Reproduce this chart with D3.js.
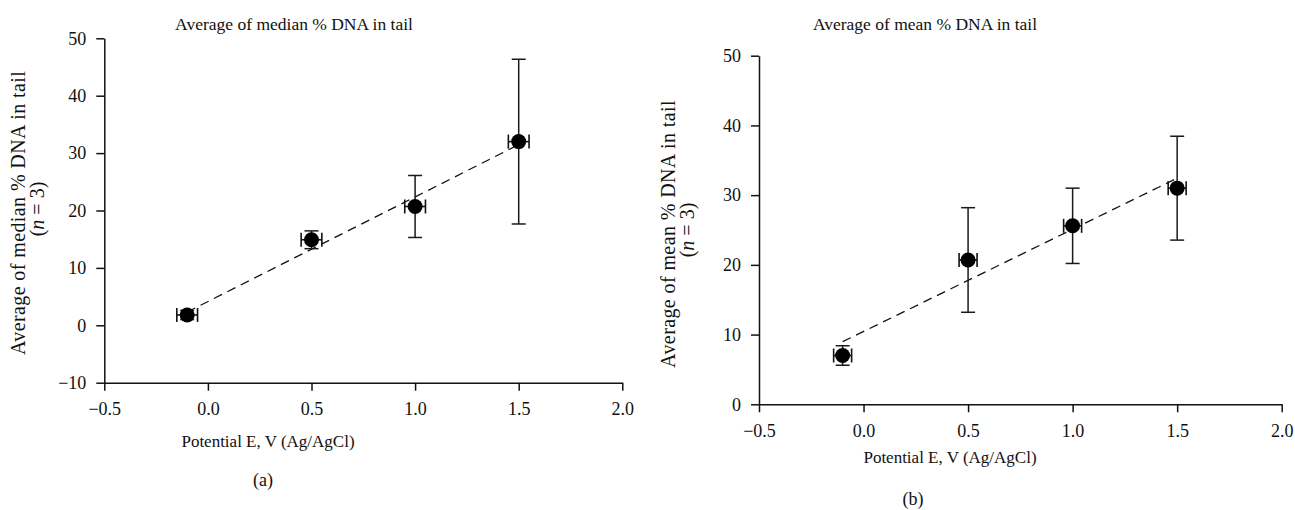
<!DOCTYPE html>
<html>
<head>
<meta charset="utf-8">
<script src="https://cdn.jsdelivr.net/npm/d3@7/dist/d3.min.js"></script>
<style>
  html, body { margin: 0; padding: 0; background: #fff; }
  svg { display: block; }
  text { font-family: "Liberation Serif", "Times New Roman", serif; fill: #111; }
</style>
</head>
<body>
<svg id="chart" width="1295" height="510"></svg>
<script>
// Applied potential (V vs Ag/AgCl) and its uncertainty
const potential = [-0.1, 0.5, 1.0, 1.5];
const potentialErrA = [0.05, 0.05, 0.05, 0.05];
const potentialErrB = [0.043, 0.043, 0.043, 0.043];

// Panel (a): average of median % DNA in tail, with standard deviation
const medianTail = [1.8, 14.9, 20.7, 32.0];
const medianTailErr = [0.8, 1.55, 5.4, 14.35];

// Panel (b): average of mean % DNA in tail, with standard deviation
const meanTail = [7.0, 20.7, 25.6, 31.0];
const meanTailErr = [1.4, 7.5, 5.4, 7.45];

// Axis ticks
const xTicks = [-0.5, 0.0, 0.5, 1.0, 1.5, 2.0];
const yTicksA = [-10, 0, 10, 20, 30, 40, 50];
const yTicksB = [0, 10, 20, 30, 40, 50];

const svg = d3.select("#chart");
const SERIF = "'Liberation Serif', 'Times New Roman', serif";

// Least-squares linear trendline through the plotted points
function linearFit(xs, ys) {
  const mx = d3.mean(xs), my = d3.mean(ys);
  const sxy = d3.sum(xs, (x, i) => (x - mx) * (ys[i] - my));
  const sxx = d3.sum(xs, x => (x - mx) * (x - mx));
  const slope = sxy / sxx;
  return { slope, intercept: my - slope * mx };
}

function drawPanel(cfg) {
  const g = svg.append("g");
  const x = d3.scaleLinear().domain([-0.5, 2.0]).range(cfg.xRange);
  const y = d3.scaleLinear().domain(cfg.yDomain).range(cfg.yRange);

  // Axes
  const xAxis = d3.axisBottom(x).tickValues(xTicks).tickFormat(d3.format(".1f"))
    .tickSize(8).tickSizeOuter(0).tickPadding(12);
  const yAxis = d3.axisLeft(y).tickValues(cfg.yTicks).tickFormat(d3.format("d"))
    .tickSize(8).tickSizeOuter(0).tickPadding(10);

  const gx = g.append("g").attr("transform", `translate(0,${cfg.yRange[0]})`).call(xAxis);
  const gy = g.append("g").attr("transform", `translate(${cfg.xRange[0]},0)`).call(yAxis);
  [gx, gy].forEach(a => {
    a.attr("font-family", SERIF);
    a.selectAll("path.domain").attr("stroke", "#111").attr("stroke-width", 1.5);
    a.selectAll(".tick line").attr("stroke", "#111").attr("stroke-width", 1.5);
    a.selectAll(".tick text").attr("font-size", 18).attr("fill", "#111");
  });

  // Dashed linear trendline
  const fit = linearFit(potential, cfg.values);
  const x0 = d3.min(potential), x1 = d3.max(potential);
  g.append("line")
    .attr("x1", x(x0)).attr("y1", y(fit.intercept + fit.slope * x0))
    .attr("x2", x(x1)).attr("y2", y(fit.intercept + fit.slope * x1))
    .attr("stroke", "#111").attr("stroke-width", 1.3)
    .attr("stroke-dasharray", "9,6");

  const pts = potential.map((p, i) => ({ p, v: cfg.values[i], ey: cfg.errors[i], ex: cfg.xErr[i] }));
  const cap = 7;

  // Vertical error bars
  const ye = g.append("g").attr("stroke", "#1a1a1a").attr("stroke-width", 1.5);
  pts.forEach(d => {
    const cx = x(d.p), yt = y(d.v + d.ey), yb = y(d.v - d.ey);
    ye.append("line").attr("x1", cx).attr("x2", cx).attr("y1", yt).attr("y2", yb);
    ye.append("line").attr("x1", cx - cap).attr("x2", cx + cap).attr("y1", yt).attr("y2", yt);
    ye.append("line").attr("x1", cx - cap).attr("x2", cx + cap).attr("y1", yb).attr("y2", yb);
  });

  // Horizontal error bars
  const xe = g.append("g").attr("stroke", "#111").attr("stroke-width", 1.6);
  pts.forEach(d => {
    const cy = y(d.v), xl = x(d.p - d.ex), xr = x(d.p + d.ex);
    xe.append("line").attr("x1", xl).attr("x2", xr).attr("y1", cy).attr("y2", cy);
    xe.append("line").attr("x1", xl).attr("x2", xl).attr("y1", cy - cap).attr("y2", cy + cap);
    xe.append("line").attr("x1", xr).attr("x2", xr).attr("y1", cy - cap).attr("y2", cy + cap);
  });

  // Markers
  g.append("g").selectAll("circle").data(pts).join("circle")
    .attr("cx", d => x(d.p)).attr("cy", d => y(d.v)).attr("r", 7.5)
    .attr("fill", "#000");

  // Titles and labels
  g.append("text").attr("x", cfg.titleX).attr("y", 30).attr("text-anchor", "middle")
    .attr("font-size", 17.5).text(cfg.title);

  g.append("text").attr("x", cfg.xLabelX).attr("y", cfg.xLabelY).attr("text-anchor", "middle")
    .attr("font-size", 17).text("Potential E, V (Ag/AgCl)");

  g.append("text").attr("x", cfg.tagX).attr("y", cfg.tagY).attr("text-anchor", "middle")
    .attr("font-size", 18).text(cfg.tag);

  const cy = cfg.yLabelCenter;
  g.append("text").attr("transform", `translate(${cfg.yLabelX},${cy}) rotate(-90)`)
    .attr("text-anchor", "middle").attr("font-size", 20).attr("letter-spacing", 0.4)
    .text(cfg.yLabel);
  const l2 = g.append("text").attr("transform", `translate(${cfg.yLabelX + 19},${cy - 4}) rotate(-90)`)
    .attr("text-anchor", "middle").attr("font-size", 20);
  l2.append("tspan").text("(");
  l2.append("tspan").attr("font-style", "italic").text("n");
  l2.append("tspan").text(" = 3)");
}

drawPanel({
  xRange: [104.3, 622.3], yRange: [382.7, 38.3], yDomain: [-10, 50], yTicks: yTicksA,
  values: medianTail, errors: medianTailErr, xErr: potentialErrA,
  title: "Average of median % DNA in tail", titleX: 294,
  yLabel: "Average of median % DNA in tail", yLabelX: 25, yLabelCenter: 213,
  xLabelX: 268, xLabelY: 447, tag: "(a)", tagX: 263, tagY: 486
});

drawPanel({
  xRange: [759, 1281.7], yRange: [404.3, 55.7], yDomain: [0, 50], yTicks: yTicksB,
  values: meanTail, errors: meanTailErr, xErr: potentialErrB,
  title: "Average of mean % DNA in tail", titleX: 925,
  yLabel: "Average of mean % DNA in tail", yLabelX: 675, yLabelCenter: 234,
  xLabelX: 950, xLabelY: 463, tag: "(b)", tagX: 913, tagY: 505
});
</script>
</body>
</html>
